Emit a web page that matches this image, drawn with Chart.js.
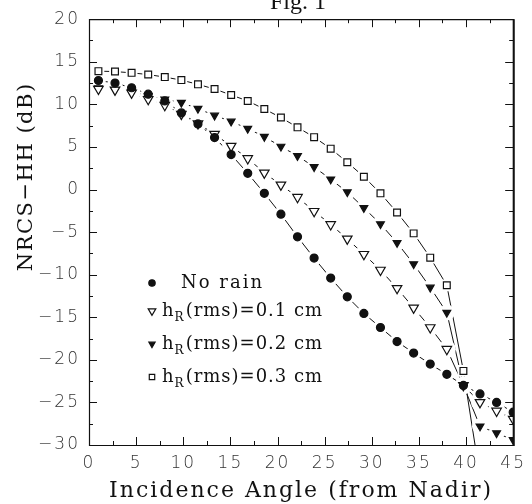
<!DOCTYPE html>
<html lang="en">
<head>
  <meta charset="UTF-8">
  <title>Fig. 1 NRCS-HH</title>
  <script src="https://cdn.jsdelivr.net/npm/chart.js"></script>
  <style>
    html, body { margin: 0; padding: 0; background: #fff; }
    #wrap { width: 532px; height: 504px; }
  </style>
</head>
<body>
  <div id="wrap"><canvas id="myChart" width="532" height="504"></canvas></div>

  <script>
    // incidence angles (deg from nadir)
    const angles = [1, 2.76, 4.52, 6.28, 8.04, 9.8, 11.56, 13.32, 15.08, 16.84, 18.6, 20.36, 22.12,
                    23.88, 25.64, 27.4, 29.16, 30.92, 32.68, 34.44, 36.2, 37.96, 39.72, 41.48, 43.24, 45];

    // NRCS-HH (dB)
    const noRain = [12.8, 12.5, 11.95, 11.2, 10.4, 9.0, 7.7, 6.1, 4.1, 1.9, -0.45, -2.9, -5.55,
                    -8.05, -10.4, -12.6, -14.55, -16.2, -17.85, -19.2, -20.5, -21.7, -23.0, -24.0, -25.0, -26.15];
    const rms01 = [11.8, 11.7, 11.35, 10.6, 9.9, 8.85, 7.75, 6.5, 5.1, 3.65, 1.96, 0.55, -0.9,
                   -2.55, -4.1, -5.8, -7.6, -9.45, -11.6, -13.9, -16.2, -18.75, -23.0, -25.0, -26.0, -26.95];
    const rms02 = [11.9, 11.7, 11.5, 11.0, 10.6, 10.2, 9.5, 8.7, 8.0, 7.15, 6.2, 5.05, 3.95,
                   2.65, 1.2, -0.3, -2.15, -4.05, -6.25, -8.75, -11.5, -14.45, -23.0, -27.8, -28.6, -29.4];
    const rms03 = [13.9, 13.85, 13.7, 13.5, 13.2, 12.85, 12.35, 11.8, 11.1, 10.4, 9.45, 8.45, 7.3,
                   6.15, 4.8, 3.2, 1.5, -0.45, -2.7, -5.15, -8.0, -11.25, -21.3, -33.7, null, null];

    const seriesNames = ['No rain', '0.1', '0.2', '0.3'];
    const xTicksMax = 45, yMin = -30, yMax = 20;

    const pts = vals => angles.map((a, i) => ({ x: a, y: vals[i] }));
    const black = '#111';

    // marker look per series
    const marks = [
      { style: 'circle', r: 4, rot: 0, fill: black },
      { style: 'triangle', r: 5.5, rot: 180, fill: '#fff' },
      { style: 'triangle', r: 4.5, rot: 180, fill: black },
      { style: 'rect', r: 4.8, rot: 0, fill: '#fff' }
    ];
    const allSeries = [noRain, rms01, rms02, rms03];

    // inward ticks on all four sides, caption, y title and the legend
    const frameTicks = {
      id: 'frameTicks',
      beforeDraw(chart) {
        chart.ctx.letterSpacing = '2px';
      },
      afterDraw(chart) {
        const ctx = chart.ctx, xs = chart.scales.x, ys = chart.scales.y;
        const a = chart.chartArea;
        ctx.save();
        ctx.letterSpacing = '0px';
        ctx.strokeStyle = black;
        ctx.lineWidth = 1.2;
        ctx.beginPath();
        ctx.rect(a.left + 0.5, a.top + 0.5, a.right - a.left, a.bottom - a.top);
        ctx.stroke();
        ctx.lineWidth = 2;
        ctx.beginPath();
        ctx.moveTo(a.right + 0.5, a.top); ctx.lineTo(a.right + 0.5, a.bottom + 1);
        ctx.stroke();
        ctx.lineWidth = 1;
        for (let v = 0; v <= xTicksMax; v += 2.5) {
          const px = Math.round(xs.getPixelForValue(v)) + 0.5;
          const len = v % 5 === 0 ? 8 : 4;
          ctx.beginPath();
          ctx.moveTo(px, a.bottom); ctx.lineTo(px, a.bottom - len);
          ctx.moveTo(px, a.top); ctx.lineTo(px, a.top + len);
          ctx.stroke();
        }
        for (let v = yMin; v <= yMax; v += 2.5) {
          const py = Math.round(ys.getPixelForValue(v)) + 0.5;
          const len = v % 5 === 0 ? 8 : 4;
          ctx.beginPath();
          ctx.moveTo(a.left, py); ctx.lineTo(a.left + len, py);
          ctx.moveTo(a.right, py); ctx.lineTo(a.right - len, py);
          ctx.stroke();
        }
        ctx.fillStyle = black;

        // caption, cut by the top edge like in the scan
        ctx.font = '24px "Liberation Serif"';
        ctx.textAlign = 'center';
        ctx.textBaseline = 'alphabetic';
        ctx.fillText('Fig. 1', 298, 9);

        // y title sits above the middle in the original
        ctx.save();
        ctx.translate(27, ys.getPixelForValue(1.5));
        ctx.rotate(-Math.PI / 2);
        ctx.font = '21px "DejaVu Serif"';
        ctx.letterSpacing = '1.5px';
        ctx.textBaseline = 'middle';
        ctx.fillText('NRCS\u2212HH (dB)', 0, 0);
        ctx.restore();

        // legend with subscript R
        const rows = [283, 311, 344, 377];
        ctx.textAlign = 'left';
        ctx.textBaseline = 'middle';
        rows.forEach((y, i) => {
          const m = marks[i];
          ctx.fillStyle = m.fill;
          ctx.strokeStyle = black;
          ctx.lineWidth = 1.2;
          Chart.helpers.drawPoint(ctx, { pointStyle: m.style, radius: m.r * 0.8, rotation: m.rot, borderWidth: 1.2 }, 152, y);
          ctx.fillStyle = black;
          if (i === 0) {
            ctx.font = '18px "DejaVu Serif"';
            ctx.letterSpacing = '2px';
            ctx.fillText(seriesNames[0], 181, y);
          } else {
            let x = 162;
            ctx.letterSpacing = '1px';
            ctx.font = '18px "DejaVu Serif"';
            ctx.fillText('h', x, y);
            x += ctx.measureText('h').width;
            ctx.font = '12px "DejaVu Serif"';
            ctx.fillText('R', x, y + 7);
            x += ctx.measureText('R').width + 1;
            ctx.font = '18px "DejaVu Serif"';
            ctx.fillText('(rms)=' + seriesNames[i] + ' cm', x, y);
          }
        });
        ctx.restore();
      }
    };

    // each series: a plain line, a white halo under the markers (gives the gaps), then the markers
    const datasets = [];
    allSeries.forEach((vals, i) => {
      const m = marks[i];
      datasets.push({
        label: 'line' + i, data: pts(vals), order: 3,
        borderColor: black, borderWidth: 1, pointRadius: 0, tension: 0
      });
      datasets.push({
        label: 'halo' + i, data: pts(vals), order: 2, showLine: false,
        pointStyle: m.style === 'rect' ? 'rect' : 'circle', pointRotation: 0, pointRadius: m.r + 3.5,
        pointBackgroundColor: '#fff', pointBorderColor: '#fff', pointBorderWidth: 0
      });
      datasets.push({
        label: seriesNames[i], data: pts(vals), order: 1, showLine: false,
        pointStyle: m.style, pointRotation: m.rot, pointRadius: m.r,
        pointBackgroundColor: m.fill, pointBorderColor: black, pointBorderWidth: 1.2
      });
    });

    const minusSign = v => String(v).replace('-', '\u2212');

    const ctx = document.getElementById('myChart').getContext('2d');
    new Chart(ctx, {
      type: 'line',
      data: { datasets: datasets },
      options: {
        responsive: false,
        animation: false,
        layout: { padding: { top: 19, right: 10, left: 0, bottom: 0 } },
        plugins: {
          legend: { display: false },
          tooltip: { enabled: false }
        },
        scales: {
          x: {
            type: 'linear', min: 0, max: xTicksMax,
            grid: { display: false, drawTicks: false },
            border: { display: false },
            ticks: { stepSize: 5, padding: 8, color: '#333', callback: minusSign,
                     font: { family: 'DejaVu Sans', size: 17, weight: 200 } },
            title: {
              display: true, text: 'Incidence Angle (from Nadir)', color: black,
              font: { family: 'DejaVu Serif', size: 22 }, padding: { top: 0, bottom: 0 }
            },
            afterFit: s => { s.height = 59; }
          },
          y: {
            type: 'linear', min: yMin, max: yMax,
            grid: { display: false, drawTicks: false },
            border: { display: false },
            ticks: { stepSize: 5, padding: 9, color: '#333', callback: minusSign,
                     font: { family: 'DejaVu Sans', size: 17, weight: 200 } },
            title: { display: false },
            afterFit: s => { s.width = 89; }
          }
        }
      },
      plugins: [frameTicks]
    });
  </script>
</body>
</html>
